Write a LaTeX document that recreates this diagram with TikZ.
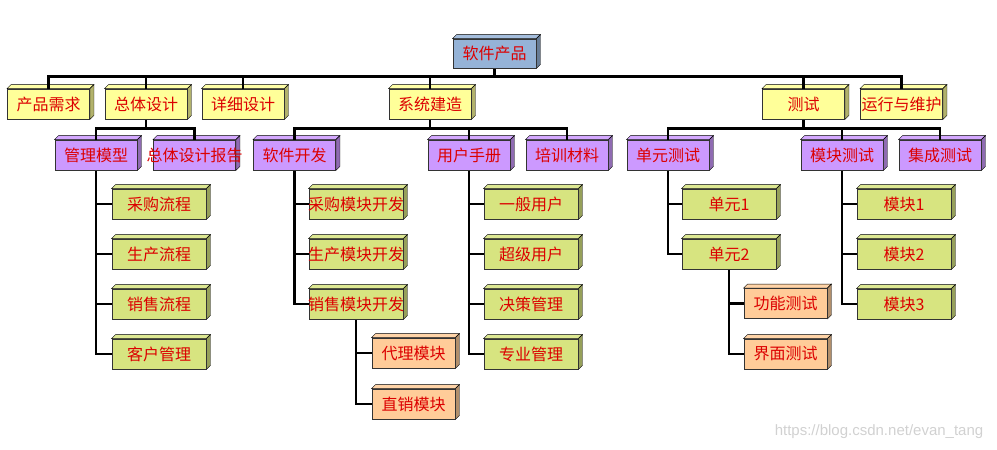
\documentclass[tikz,border=0pt]{standalone}
\usepackage{fontspec}
\setmainfont{Noto Sans CJK SC}
\newfontfamily\markfont{Liberation Sans}
\usetikzlibrary{backgrounds}
\definecolor{rootc}{HTML}{95B3D7}
\definecolor{yel}{HTML}{FFFF99}
\definecolor{pur}{HTML}{CC99FF}
\definecolor{grn}{HTML}{D7E480}
\definecolor{org}{HTML}{FFCC99}
\definecolor{txt}{RGB}{220,0,0}
\newcommand\spill[1]{\makebox[0pt]{#1}}
% top and side face of a box
\newcommand\cube[2]{%
  \filldraw[fill=#2!85!white] (#1.north west) -- ++(4,-4) -- ([shift={(4,-4)}]#1.north east) -- (#1.north east) -- cycle;
  \filldraw[fill=#2!70!black] (#1.north east) -- ++(4,-4) -- ([shift={(4,-4)}]#1.south east) -- (#1.south east) -- cycle;}
\tikzset{
  box/.style={draw=black!80, line width=0.9pt, inner sep=0pt, minimum height=30,
    text=txt, font=\fontsize{16}{16}\selectfont},
  top/.style={box, fill=rootc, minimum width=83, minimum height=29},
  phase/.style={box, fill=yel, minimum width=82},
  part/.style={box, fill=pur, minimum width=82},
  leaf/.style={box, fill=grn, minimum width=94},
  sub/.style={box, fill=org, minimum width=83},
  link/.style={draw=black, line width=2.8pt}
}
\begin{document}
\begin{tikzpicture}[x=1pt,y=-1pt]
  \useasboundingbox (0,0) rectangle (997,450);
  % tree
  \node[top] (root) at (494.5,53.5) {软件产品};
  \node[phase] (req) at (48.5,104) {产品需求};
  \node[phase] (design) at (146,104) {总体设计};
  \node[phase] (detail) at (243,104) {详细设计};
  \node[phase] (build) at (430,104) {系统建造};
  \node[phase] (test) at (803.5,104) {测试};
  \node[phase] (maint) at (901.5,104) {运行与维护};
  \node[part] (model) at (96,155) {管理模型};
  \node[part] (report) at (194.5,155) {\spill{总体设计报告}};
  \node[part] (dev) at (294.5,155) {软件开发};
  \node[part] (manual) at (469,155) {用户手册};
  \node[part] (train) at (567,155) {培训材料};
  \node[part] (unit) at (668,155) {单元测试};
  \node[part] (module) at (842,155) {模块测试};
  \node[part] (integ) at (940,155) {集成测试};
  \foreach \n/\lab [count=\i] in {flow1/采购流程, flow2/生产流程, flow3/销售流程, flow4/客户管理}
    \node[leaf] (\n) at (159,154+50*\i) {\lab};
  \foreach \n/\lab [count=\i] in {dev1/采购模块开发, dev2/生产模块开发, dev3/销售模块开发}
    \node[leaf] (\n) at (356,154+50*\i) {\spill{\lab}};
  \node[sub] (agent) at (413.5,353) {代理模块};
  \node[sub] (direct) at (413.5,404) {直销模块};
  \foreach \n/\lab [count=\i] in {user1/一般用户, user2/超级用户, user3/决策管理, user4/专业管理}
    \node[leaf] (\n) at (531,154+50*\i) {\lab};
  \node[leaf] (unit1) at (729,204) {单元1};
  \node[leaf] (unit2) at (729,254) {单元2};
  \node[sub] (func) at (785.5,303.5) {功能测试};
  \node[sub] (ui) at (785.5,354) {界面测试};
  \foreach \n/\lab [count=\i] in {mod1/模块1, mod2/模块2, mod3/模块3}
    \node[leaf] (\n) at (904,154+50*\i) {\lab};

  \begin{scope}[on background layer, draw=black!80, line width=0.9pt]
    \cube{root}{rootc}
    \foreach \n in {req,design,detail,build,test,maint} {\cube{\n}{yel}}
    \foreach \n in {model,report,dev,manual,train,unit,module,integ} {\cube{\n}{pur}}
    \foreach \n in {flow1,flow2,flow3,flow4,dev1,dev2,dev3,user1,user2,user3,user4,unit1,unit2,mod1,mod2,mod3} {\cube{\n}{grn}}
    \foreach \n in {agent,direct,func,ui} {\cube{\n}{org}}
  \end{scope}

  \begin{scope}[on background layer]
    \foreach \c in {req,design,detail,build,test,maint}
      \draw[link] (root.south) -- ++(0,8) -| (\c.north);
    \foreach \p/\c in {design/model, design/report, build/dev, build/manual, build/train,
                       test/unit, test/module, test/integ}
      \draw[link] (\p.south) -- ++(0,9) -| (\c.north);
    \foreach \p/\c in {model/flow1, model/flow2, model/flow3, model/flow4,
                       dev/dev1, dev/dev2, dev/dev3, dev3/agent, dev3/direct,
                       manual/user1, manual/user2, manual/user3, manual/user4,
                       unit/unit1, unit/unit2, unit2/func, unit2/ui,
                       module/mod1, module/mod2, module/mod3}
      \draw[link] (\p.south) |- (\c.west);
  \end{scope}

  \node[text=black!18, font=\markfont\fontsize{15}{16}\selectfont] (mark) at (879,432) {https://blog.csdn.net/evan\_tang};
\end{tikzpicture}
\end{document}
